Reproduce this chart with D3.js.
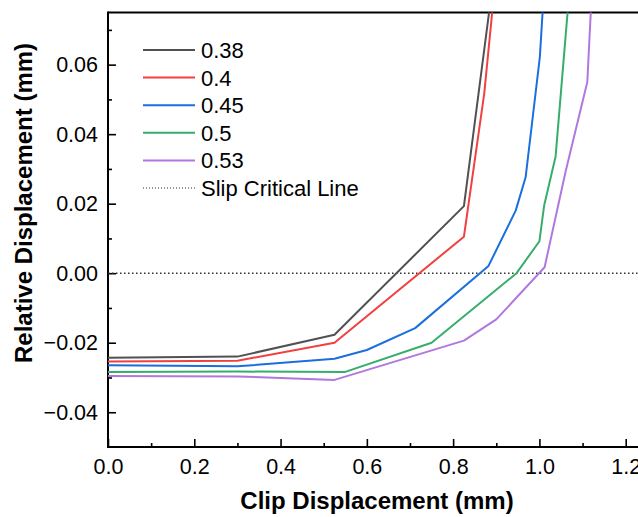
<!DOCTYPE html>
<html>
<head>
<meta charset="utf-8">
<script src="https://cdn.jsdelivr.net/npm/d3@7"></script>
<style>
  body { margin: 0; background: #fff; }
  svg { display: block; font-family: "Liberation Sans", Arial, sans-serif; }
</style>
</head>
<body>
<svg id="chart" width="638" height="517"></svg>
<script>
// series (clip displacement -> relative displacement, mm)
const names = ["0.38", "0.4", "0.45", "0.5", "0.53"];
const colors = ["#515151", "#F14040", "#1A6FDF", "#37AD6B", "#B177DE"];

const x038 = [0, 0.3, 0.525, 0.825, 0.9];
const y038 = [-0.0243, -0.0240, -0.0177, 0.0193, 0.0910];
const x040 = [0, 0.3, 0.525, 0.825, 0.872, 0.9];
const y040 = [-0.0254, -0.0252, -0.0200, 0.0105, 0.0516, 0.087];
const x045 = [0, 0.3, 0.525, 0.6, 0.712, 0.882, 0.945, 0.968, 1.001, 1.015];
const y045 = [-0.0265, -0.0268, -0.0246, -0.0221, -0.0158, 0.0021, 0.0180, 0.0276, 0.0622, 0.0905];
const x050 = [0, 0.3, 0.55, 0.75, 0.947, 1.0, 1.011, 1.0375, 1.075];
const y050 = [-0.0284, -0.0283, -0.0284, -0.0200, 0.0, 0.0092, 0.0195, 0.0336, 0.0895];
const x053 = [0, 0.3, 0.525, 0.825, 0.9, 1.012, 1.061, 1.111, 1.125];
const y053 = [-0.0296, -0.0297, -0.0307, -0.0194, -0.0133, 0.0017, 0.0294, 0.055, 0.090];

const xTicks = [0, 0.2, 0.4, 0.6, 0.8, 1.0, 1.2];
const xMinor = [0.1, 0.3, 0.5, 0.7, 0.9, 1.1];
const yTicks = [-0.04, -0.02, 0, 0.02, 0.04, 0.06];
const yMinor = [-0.03, -0.01, 0.01, 0.03, 0.05, 0.07];
const slipLine = 0;

const series = [[x038, y038], [x040, y040], [x045, y045], [x050, y050], [x053, y053]]
  .map(([xs, ys], i) => ({name: names[i], color: colors[i], pts: xs.map((v, j) => [v, ys[j]])}));

const W = 638, padL = 108, padT = 12.5, axisY = 447;
const svg = d3.select("#chart");

const x = d3.scaleLinear().domain([0, 1.2]).range([padL, 625.7]);
const y = d3.scaleLinear().domain([-0.05, 0.075]).range([axisY, padT]);

svg.append("defs").append("clipPath").attr("id", "plot")
  .append("rect").attr("x", padL).attr("y", padT).attr("width", W - padL).attr("height", axisY - padT);

const fmtY = v => d3.format(".2f")(v).replace("-", "\u2212");

// minor ticks
svg.append("g").attr("transform", `translate(0,${axisY})`)
  .call(d3.axisBottom(x).tickValues(xMinor).tickSize(-4).tickFormat(""));
svg.append("g").attr("transform", `translate(${padL},0)`)
  .call(d3.axisLeft(y).tickValues(yMinor).tickSize(-4).tickFormat(""));

// major ticks
svg.append("g").attr("class", "xa").attr("transform", `translate(0,${axisY})`)
  .call(d3.axisBottom(x).tickValues(xTicks).tickSize(-8).tickPadding(12).tickFormat(d3.format(".1f")));
svg.append("g").attr("class", "ya").attr("transform", `translate(${padL},0)`)
  .call(d3.axisLeft(y).tickValues(yTicks).tickSize(-8).tickPadding(10).tickFormat(fmtY));

svg.selectAll(".domain").remove();
svg.selectAll(".tick line").attr("stroke", "#000").attr("stroke-width", 1.6);
svg.selectAll(".tick text").attr("fill", "#000").style("font-size", "21.5px");

// frame
svg.append("line").attr("x1", padL).attr("x2", W).attr("y1", axisY).attr("y2", axisY)
  .attr("stroke", "#000").attr("stroke-width", 2);
svg.append("line").attr("x1", padL).attr("x2", padL).attr("y1", padT - 1).attr("y2", axisY + 1)
  .attr("stroke", "#000").attr("stroke-width", 2);
svg.append("line").attr("x1", padL).attr("x2", W).attr("y1", padT).attr("y2", padT)
  .attr("stroke", "#000").attr("stroke-width", 2);

const plot = svg.append("g").attr("clip-path", "url(#plot)");

plot.append("line")
  .attr("x1", padL).attr("x2", W).attr("y1", y(slipLine)).attr("y2", y(slipLine))
  .attr("stroke", "#333").attr("stroke-width", 1.5).attr("stroke-dasharray", "1.5,2.5");

const line = d3.line().x(d => x(d[0])).y(d => y(d[1]));
plot.selectAll("path.s")
  .data(series)
  .join("path")
  .attr("class", "s")
  .attr("fill", "none")
  .attr("stroke", d => d.color)
  .attr("stroke-width", 2)
  .attr("stroke-linejoin", "round")
  .attr("d", d => line(d.pts));

// legend
const leg = svg.append("g");
const rowY = i => 50 + i * 27.6;
series.forEach((s, i) => {
  leg.append("line").attr("x1", 143).attr("x2", 195).attr("y1", rowY(i)).attr("y2", rowY(i))
    .attr("stroke", s.color).attr("stroke-width", 2);
  leg.append("text").attr("x", 201).attr("y", rowY(i) + 8).style("font-size", "22px").text(s.name);
});
leg.append("line").attr("x1", 143).attr("x2", 195).attr("y1", rowY(5)).attr("y2", rowY(5))
  .attr("stroke", "#333").attr("stroke-width", 1.2).attr("stroke-dasharray", "1,2");
leg.append("text").attr("x", 201).attr("y", rowY(5) + 8).style("font-size", "22px").text("Slip Critical Line");

// axis titles
svg.append("text").attr("x", 377).attr("y", 509).attr("text-anchor", "middle")
  .style("font-size", "24px").style("font-weight", "bold").text("Clip Displacement (mm)");
svg.append("text").attr("transform", "translate(32,203) rotate(-90)").attr("text-anchor", "middle")
  .style("font-size", "24px").style("font-weight", "bold").text("Relative Displacement (mm)");
</script>
</body>
</html>
